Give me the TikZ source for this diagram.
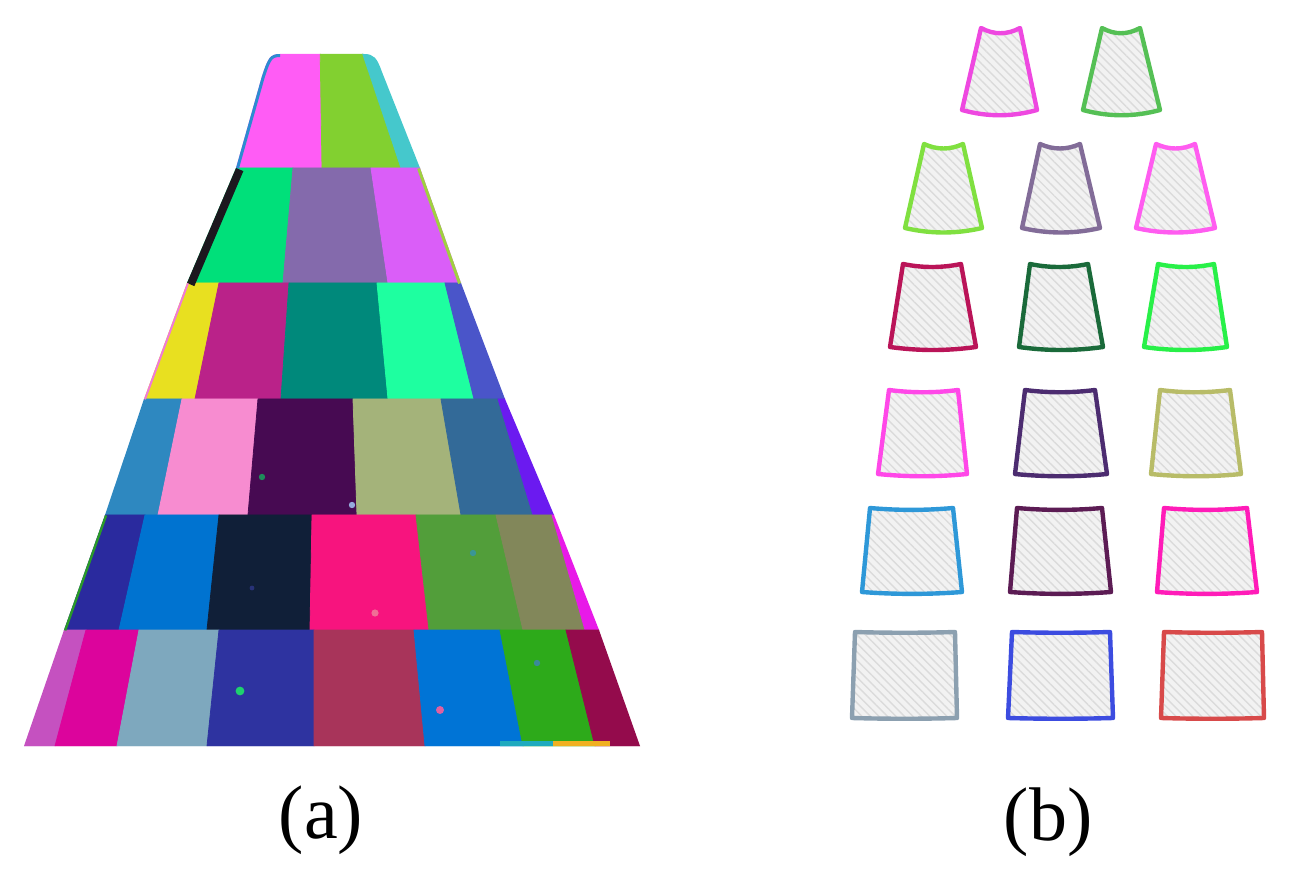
\documentclass[tikz,border=0pt]{standalone}
\usepackage{fontspec}
\setmainfont{Liberation Serif}
\usetikzlibrary{patterns.meta}
% road block colours
\definecolor{rOneA}{HTML}{FF5CF5}\definecolor{rOneB}{HTML}{82D030}\definecolor{rOneC}{HTML}{45C8CC}
\definecolor{rTwoA}{HTML}{00E07A}\definecolor{rTwoB}{HTML}{846AAC}\definecolor{rTwoC}{HTML}{DA5EF8}
\definecolor{rThrA}{HTML}{E8E020}\definecolor{rThrB}{HTML}{BA2289}\definecolor{rThrC}{HTML}{00897B}\definecolor{rThrD}{HTML}{1EFFA0}\definecolor{rThrE}{HTML}{4A55C9}
\definecolor{rFouA}{HTML}{2E88C0}\definecolor{rFouB}{HTML}{F78CD0}\definecolor{rFouC}{HTML}{470A52}\definecolor{rFouD}{HTML}{A4B37A}\definecolor{rFouE}{HTML}{336A98}\definecolor{rFouF}{HTML}{6B1AF0}
\definecolor{rFivA}{HTML}{2A2A9E}\definecolor{rFivB}{HTML}{0073D0}\definecolor{rFivC}{HTML}{101F38}\definecolor{rFivD}{HTML}{F7147E}\definecolor{rFivE}{HTML}{529E3A}\definecolor{rFivF}{HTML}{82875A}\definecolor{rFivG}{HTML}{E81AE8}
\definecolor{rSixA}{HTML}{C551C0}\definecolor{rSixB}{HTML}{DC049C}\definecolor{rSixC}{HTML}{7EA8BE}\definecolor{rSixD}{HTML}{2E33A0}\definecolor{rSixE}{HTML}{A8345A}\definecolor{rSixF}{HTML}{0074D6}\definecolor{rSixG}{HTML}{2DAA1A}\definecolor{rSixH}{HTML}{940B4C}
% outline colours of panel (b)
\definecolor{bA}{HTML}{EE48E0}\definecolor{bB}{HTML}{55C055}
\definecolor{bC}{HTML}{80E040}\definecolor{bD}{HTML}{826C98}\definecolor{bE}{HTML}{FF5CF0}
\definecolor{bF}{HTML}{BA1458}\definecolor{bG}{HTML}{1A6A3A}\definecolor{bH}{HTML}{28F048}
\definecolor{bI}{HTML}{FF48E8}\definecolor{bJ}{HTML}{4C2C70}\definecolor{bK}{HTML}{B8BC68}
\definecolor{bL}{HTML}{2E98D8}\definecolor{bM}{HTML}{5C1C54}\definecolor{bN}{HTML}{FF1CB8}
\definecolor{bO}{HTML}{8CA0B0}\definecolor{bP}{HTML}{3C4CE0}\definecolor{bQ}{HTML}{D84A4A}
\newcommand{\blk}[7]{\fill[#1,draw=#1,line width=0.4pt] (#2,#4) -- (#3,#4) -- (#6,#7) -- (#5,#7) -- cycle;}
\newcommand{\shp}[8]{\draw[cupstyle,draw=#1] (#2,#4) .. controls ({#2+(#3-#2)/3},{#4+#8}) and ({#3-(#3-#2)/3},{#4+#8}) .. (#3,#4) -- (#6,#7) .. controls ({#6-(#6-#5)/3},{#7+#8}) and ({#5+(#6-#5)/3},{#7+#8}) .. (#5,#7) -- cycle;}
\tikzset{
  cupstyle/.style={line width=2.2pt,line join=round,preaction={fill=black!5},
    pattern={Lines[angle=-45,distance=3pt,line width=0.7pt]},pattern color=black!14},
  lbl/.style={font=\fontsize{38}{40}\selectfont,anchor=base,inner sep=0pt}
}
\begin{document}
\begin{tikzpicture}[x=0.5pt,y=-0.5pt]
\useasboundingbox (0,0) rectangle (1290,881);
% ---------------- panel (a): segmented road ----------------
\begin{scope}
\clip (24,746) -- (64,630) -- (105,515) -- (144,399) -- (187,283) -- (236,168) -- (262,76)
  .. controls (268,58) and (270,54) .. (280,54) -- (364,54)
  .. controls (374,54) and (377,58) .. (382,72) -- (420,168) -- (461,283) -- (505,399)
  -- (554,515) -- (599,630) -- (640,746) -- cycle;
% row 1
\blk{rOneA}{180}{320}{40}{180}{322}{168}
\blk{rOneB}{320}{358}{40}{322}{401}{168}
\blk{rOneC}{358}{460}{40}{401}{460}{168}
% row 2
\blk{rTwoA}{140}{293}{168}{140}{283}{283}
\blk{rTwoB}{293}{371}{168}{283}{388}{283}
\blk{rTwoC}{371}{500}{168}{388}{500}{283}
% row 3
\blk{rThrA}{100}{219}{283}{100}{195}{399}
\blk{rThrB}{219}{289}{283}{195}{281}{399}
\blk{rThrC}{289}{377}{283}{281}{388}{399}
\blk{rThrD}{377}{445}{283}{388}{474}{399}
\blk{rThrE}{445}{560}{283}{474}{560}{399}
% row 4
\blk{rFouA}{60}{182}{399}{60}{158}{515}
\blk{rFouB}{182}{258}{399}{158}{248}{515}
\blk{rFouC}{258}{353}{399}{248}{357}{515}
\blk{rFouD}{353}{441}{399}{357}{461}{515}
\blk{rFouE}{441}{498}{399}{461}{533}{515}
\blk{rFouF}{498}{600}{399}{533}{600}{515}
% row 5
\blk{rFivA}{10}{145}{515}{10}{119}{630}
\blk{rFivB}{145}{219}{515}{119}{207}{630}
\blk{rFivC}{219}{312}{515}{207}{310}{630}
\blk{rFivD}{312}{416}{515}{310}{429}{630}
\blk{rFivE}{416}{496}{515}{429}{523}{630}
\blk{rFivF}{496}{552}{515}{523}{585}{630}
\blk{rFivG}{552}{660}{515}{585}{660}{630}
% row 6
\blk{rSixA}{0}{86}{630}{0}{55}{746}
\blk{rSixB}{86}{139}{630}{55}{117}{746}
\blk{rSixC}{139}{219}{630}{117}{207}{746}
\blk{rSixD}{219}{314}{630}{207}{314}{746}
\blk{rSixE}{314}{414}{630}{314}{425}{746}
\blk{rSixF}{414}{500}{630}{425}{523}{746}
\blk{rSixG}{500}{566}{630}{523}{595}{746}
\blk{rSixH}{566}{680}{630}{595}{680}{746}
% thin strips along the edges
\draw[line width=3pt,color={rgb,255:red,44;green,140;blue,208}] (236,168) -- (262,76) .. controls (268,58) and (270,54) .. (280,54);
\draw[line width=8pt,color={rgb,255:red,28;green,24;blue,30}] (236,168) -- (187,283);
\draw[line width=3pt,color={rgb,255:red,160;green,208;blue,64}] (420,168) -- (461,283);
\draw[line width=2pt,color={rgb,255:red,240;green,122;blue,216}] (187,283) -- (144,399);
\draw[line width=2.4pt,color={rgb,255:red,42;green,154;blue,42}] (105,515) -- (64,630);
\fill[color={rgb,255:red,30;green,170;blue,190}] (500,741) rectangle (553,750);
\fill[color={rgb,255:red,240;green,176;blue,32}] (553,741) rectangle (610,750);
% small specks
\fill[color={rgb,255:red,30;green,210;blue,110}] (240,691) circle[radius=2.2pt];
\fill[color={rgb,255:red,224;green,96;blue,160}] (440,710) circle[radius=2pt];
\fill[color={rgb,255:red,240;green,110;blue,150}] (375,613) circle[radius=1.8pt];
\fill[color={rgb,255:red,58;green,150;blue,150}] (473,553) circle[radius=1.6pt];
\fill[color={rgb,255:red,58;green,138;blue,154}] (537,663) circle[radius=1.6pt];
\fill[color={rgb,255:red,30;green,140;blue,90}] (262,477) circle[radius=1.6pt];
\fill[color={rgb,255:red,150;green,170;blue,220}] (352,505) circle[radius=1.6pt];
\fill[color={rgb,255:red,40;green,50;blue,120}] (252,588) circle[radius=1.2pt];
\end{scope}
% ---------------- panel (b): outlined cells ----------------
\shp{bA}{981}{1020}{28}{962}{1037}{110}{7}
\shp{bB}{1102}{1140}{28}{1083}{1160}{110}{7}
\shp{bC}{924}{963}{144}{905}{982}{228}{6}
\shp{bD}{1040}{1080}{144}{1022}{1100}{228}{6}
\shp{bE}{1156}{1195}{144}{1136}{1215}{228}{6}
\shp{bF}{903}{961}{264}{890}{976}{347}{4}
\shp{bG}{1030}{1088}{264}{1019}{1103}{347}{4}
\shp{bH}{1158}{1214}{264}{1144}{1227}{347}{4}
\shp{bI}{889}{958}{390}{878}{967}{474}{3}
\shp{bJ}{1025}{1095}{390}{1015}{1107}{474}{3}
\shp{bK}{1160}{1230}{390}{1151}{1241}{474}{3}
\shp{bL}{870}{953}{508}{862}{962}{592}{2.5}
\shp{bM}{1017}{1102}{508}{1010}{1111}{592}{2.5}
\shp{bN}{1164}{1247}{508}{1157}{1257}{592}{2.5}
\shp{bO}{855}{955}{632}{852}{957}{718}{1}
\shp{bP}{1012}{1110}{632}{1008}{1113}{718}{1}
\shp{bQ}{1164}{1262}{632}{1161}{1264}{718}{1}
% ---------------- labels ----------------
\node[lbl] (la) at (321,838) {(a)};
\node[lbl] (lb) at (1048,840) {(b)};
\end{tikzpicture}
\end{document}
